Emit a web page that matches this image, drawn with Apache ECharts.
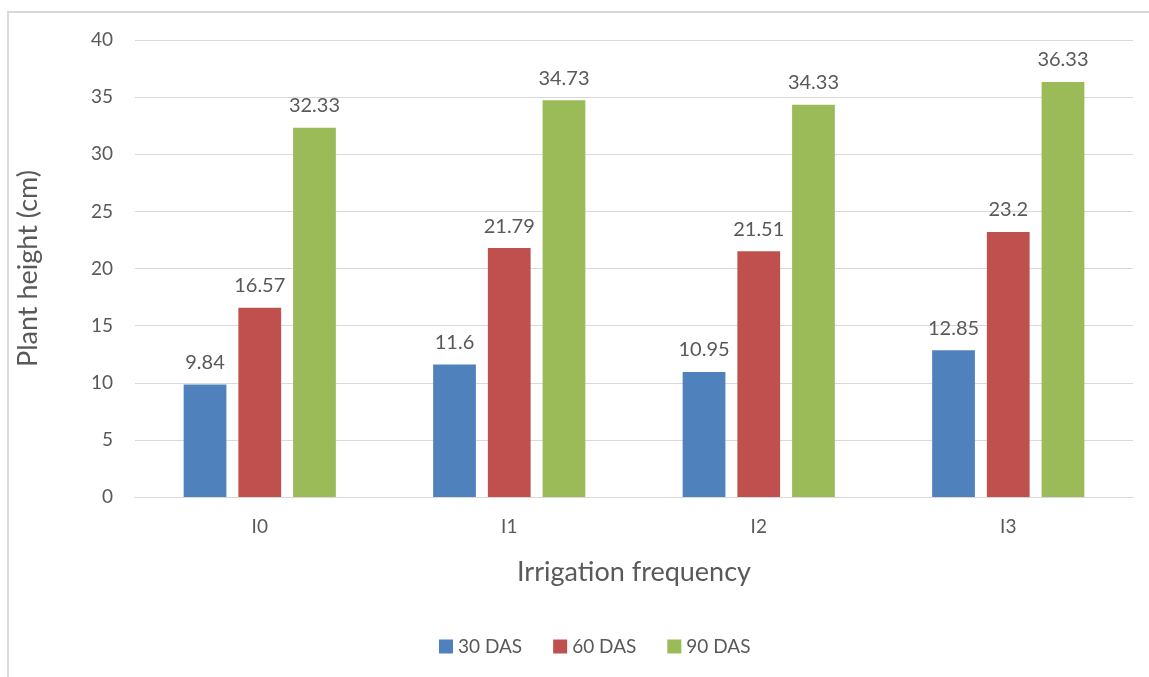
<!DOCTYPE html>
<html>
<head>
<meta charset="utf-8">
<script src="https://cdn.jsdelivr.net/npm/echarts@6/dist/echarts.min.js"></script>
<style>
  html, body { margin: 0; padding: 0; background: #fff; }
  #frame { position: absolute; left: 7px; top: 11px; width: 1160px; height: 700px; border: 2px solid #d9d9d9; box-sizing: border-box; }
  #chart { position: absolute; left: 0; top: 0; width: 1149px; height: 677px; }
</style>
</head>
<body>
<div id="frame"></div>
<div id="chart"></div>
<script>
// Plant height by irrigation frequency at three growth stages
const categories = ['I0', 'I1', 'I2', 'I3'];
const das30 = [9.84, 11.6, 10.95, 12.85];
const das60 = [16.57, 21.79, 21.51, 23.2];
const das90 = [32.33, 34.73, 34.33, 36.33];
const yTicks = { min: 0, max: 40, interval: 5 };

const FONT = 'Lato, "Open Sans", sans-serif';
const TXT = '#595959';

function barSeries(name, data, color) {
  return {
    name: name,
    type: 'bar',
    data: data,
    barGap: '28%',
    barCategoryGap: '39%',
    itemStyle: { color: color },
    label: {
      show: true,
      position: 'top',
      distance: 12,
      color: TXT,
      fontFamily: FONT,
      fontSize: 20
    }
  };
}

const chart = echarts.init(document.getElementById('chart'), null, { renderer: 'canvas' });
chart.setOption({
  animation: false,
  textStyle: { fontFamily: FONT, color: TXT },
  grid: { left: 135, right: 16, top: 40, bottom: 180, containLabel: false },
  legend: {
    bottom: 16,
    left: 434,
    itemWidth: 14,
    itemHeight: 14,
    itemGap: 31,
    icon: 'rect',
    textStyle: { color: TXT, fontFamily: FONT, fontSize: 19 },
    data: ['30 DAS', '60 DAS', '90 DAS']
  },
  xAxis: {
    type: 'category',
    data: categories,
    name: 'Irrigation frequency',
    nameLocation: 'middle',
    nameGap: 62,
    nameTextStyle: { color: TXT, fontFamily: FONT, fontSize: 27 },
    axisLine: { show: true, lineStyle: { color: '#d9d9d9', width: 1 } },
    axisTick: { show: false },
    axisLabel: { color: TXT, fontFamily: FONT, fontSize: 19, margin: 20 }
  },
  yAxis: {
    type: 'value',
    min: yTicks.min,
    max: yTicks.max,
    interval: yTicks.interval,
    name: 'Plant height (cm)',
    nameLocation: 'middle',
    nameGap: 93,
    nameTextStyle: { color: TXT, fontFamily: FONT, fontSize: 27 },
    axisLine: { show: false },
    axisTick: { show: false },
    axisLabel: { color: TXT, fontFamily: FONT, fontSize: 19, margin: 22 },
    splitLine: { lineStyle: { color: '#d9d9d9', width: 1 } }
  },
  series: [
    barSeries('30 DAS', das30, '#4F81BD'),
    barSeries('60 DAS', das60, '#C0504D'),
    barSeries('90 DAS', das90, '#9BBB59')
  ]
});
</script>
</body>
</html>
